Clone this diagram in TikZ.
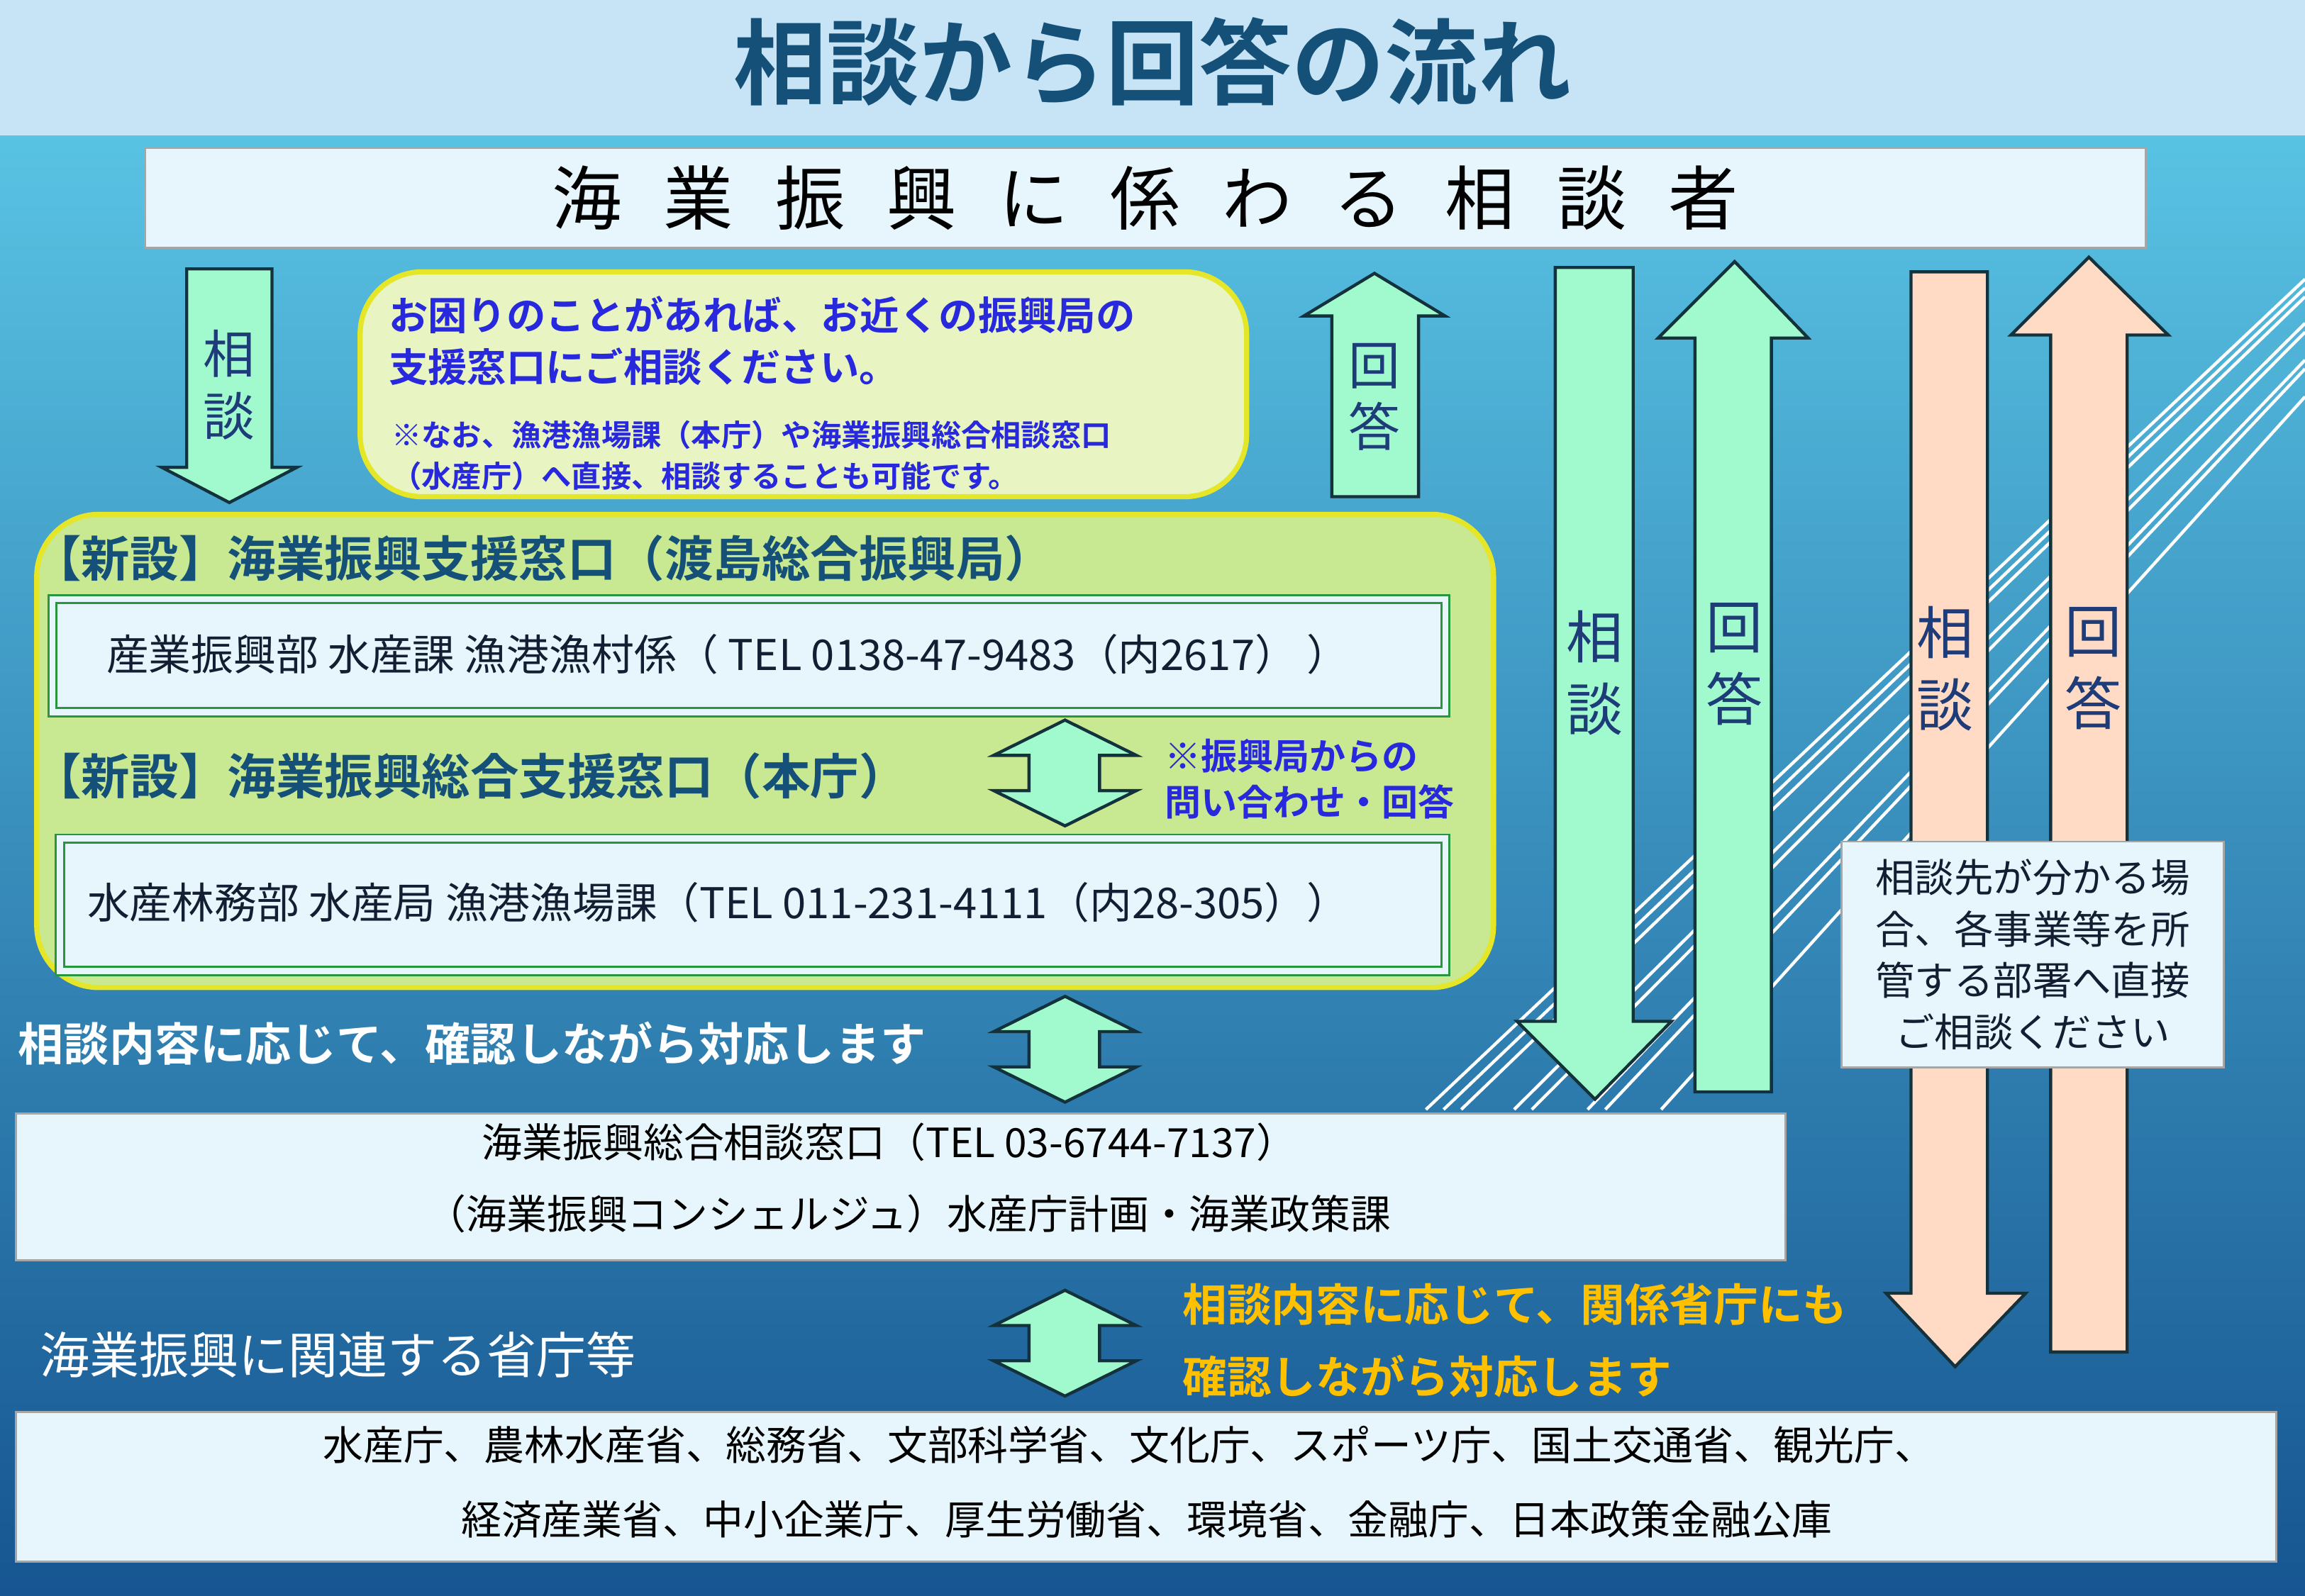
\documentclass[tikz,border=0pt]{standalone}
\usepackage{fontspec}
\setmainfont{Noto Sans CJK JP}
\newfontfamily\jb{Noto Sans CJK JP Bold}
\definecolor{bluetxt}{RGB}{40,40,220}
\definecolor{titlec}{RGB}{20,80,120}
\definecolor{grnf}{RGB}{160,250,205}
\definecolor{darkl}{RGB}{20,50,60}
\definecolor{pnkf}{RGB}{255,218,196}
\definecolor{wfill}{RGB}{230,246,252}
\definecolor{lbltxt}{RGB}{30,60,120}
\definecolor{bgtop}{RGB}{95,205,235}
\definecolor{bgbot}{RGB}{22,85,145}
\definecolor{band}{RGB}{198,228,246}
\definecolor{yelf}{RGB}{232,245,195}
\definecolor{yeld}{RGB}{230,230,40}
\definecolor{grbox}{RGB}{200,232,145}
\definecolor{grline}{RGB}{40,150,60}
\definecolor{orng}{RGB}{255,192,0}
\definecolor{dtxt}{RGB}{20,30,50}
\begin{document}
\begin{tikzpicture}[x=0.01cm,y=-0.01cm,
  grn/.style={fill=grnf,draw=darkl,line width=0.6pt},
  pnk/.style={fill=pnkf,draw=darkl,line width=0.6pt},
  wbox/.style={fill=wfill,draw=gray!70},
  lbl/.style={font=\fontsize{10}{12}\selectfont,text=lbltxt,align=center}]
\useasboundingbox (0,0) rectangle (1568,1086);
\shade[top color=bgtop,bottom color=bgbot] (0,0) rectangle (1568,1086);
\fill[band] (0,0) rectangle (1568,92);
\node[font=\jb\fontsize{18}{20}\selectfont,text=titlec] (title) at (784,42) {相談から回答の流れ};
% decorative lines
\foreach \d in {0,12,24,60,72,110,122,160} \draw[white,line width=0.6pt] (970+\d,755) -- (1568,190+\d*0.5);
% top box
\node[wbox,minimum width=13.6cm,minimum height=0.68cm,anchor=north west,font=\fontsize{13.5}{15}\selectfont] (cons) at (98,100) {海\hspace{0.6em}業\hspace{0.6em}振\hspace{0.6em}興\hspace{0.6em}に\hspace{0.6em}係\hspace{0.6em}わ\hspace{0.6em}る\hspace{0.6em}相\hspace{0.6em}談\hspace{0.6em}者};
% small down arrow
\draw[grn] (127,183) -- (185,183) -- (185,318) -- (202,318) -- (156,342) -- (110,318) -- (127,318) -- cycle;
\node[lbl] (s1) at (156,262) {相\\談};
% yellow box
\draw[rounded corners=12pt,fill=yelf,draw=yeld,line width=1pt] (245,185) rectangle (848,338);
\node[anchor=west,text=bluetxt,font=\jb\fontsize{7.6}{10}\selectfont,align=left] (y1) at (252,232) {お困りのことがあれば、お近くの振興局の\\支援窓口にご相談ください。};
\node[anchor=west,text=bluetxt,font=\jb\fontsize{5.8}{8}\selectfont,align=left] (y2) at (254,310) {※なお、漁港漁場課（本庁）や海業振興総合相談窓口\\（水産庁）へ直接、相談することも可能です。};
% small up arrow
\draw[grn] (906,338) -- (965,338) -- (965,215) -- (983,215) -- (935,186) -- (887,215) -- (906,215) -- cycle;
\node[lbl] (k1) at (935,270) {回\\答};
% big arrows
\draw[grn] (1058,182) -- (1111,182) -- (1111,695) -- (1137,695) -- (1085,748) -- (1032,695) -- (1058,695) -- cycle;
\node[lbl,font=\fontsize{11}{14}\selectfont] at (1085,458) {相\\談};
\draw[grn] (1153,743) -- (1205,743) -- (1205,230) -- (1230,230) -- (1180,178) -- (1128,230) -- (1153,230) -- cycle;
\node[lbl,font=\fontsize{11}{14}\selectfont] at (1180,452) {回\\答};
\draw[pnk] (1300,185) -- (1352,185) -- (1352,880) -- (1378,880) -- (1330,930) -- (1283,880) -- (1300,880) -- cycle;
\node[lbl,font=\fontsize{11}{14}\selectfont] at (1323,455) {相\\談};
\draw[pnk] (1395,920) -- (1447,920) -- (1447,228) -- (1475,228) -- (1421,175) -- (1368,228) -- (1395,228) -- cycle;
\node[lbl,font=\fontsize{11}{14}\selectfont] at (1424,455) {回\\答};
\node[wbox,minimum width=2.6cm,minimum height=1.5cm,anchor=north west,align=center,font=\fontsize{7.6}{10}\selectfont,text=dtxt] (pb) at (1252,572) {相談先が分かる場\\合、各事業等を所\\管する部署へ直接\\ご相談ください};
% green box
\draw[rounded corners=12pt,fill=grbox,draw=yeld,line width=1pt] (25,350) rectangle (1016,672);
\node[anchor=west,font=\jb\fontsize{9.4}{11}\selectfont,text=titlec] (h1) at (10,380) {【新設】海業振興支援窓口（渡島総合振興局）};
\node[wbox,draw=grline,double=wfill,double distance=1.2pt,minimum width=9.47cm,minimum height=0.77cm,anchor=north west] (b1) at (35,407) {};
\node[anchor=west,font=\fontsize{8.2}{10}\selectfont,text=dtxt] at (60,445) {産業振興部 水産課 漁港漁村係（ TEL 0138-47-9483（内2617） ）};
\node[anchor=west,font=\jb\fontsize{9.4}{11}\selectfont,text=titlec] (h2) at (10,528) {【新設】海業振興総合支援窓口（本庁）};
\node[wbox,draw=grline,double=wfill,double distance=1.2pt,minimum width=9.42cm,minimum height=0.9cm,anchor=north west] (b2) at (40,570) {};
\node[anchor=west,font=\fontsize{8.2}{10}\selectfont,text=dtxt] at (47,614) {水産林務部 水産局 漁港漁場課（TEL 011-231-4111（内28-305））};
% double arrows
\foreach \t/\b in {490/562,678/750,878/950}{
\draw[grn] (700,\t+24) -- (676,\t+24) -- (724.5,\t) -- (773,\t+24) -- (748,\t+24) -- (748,\b-24) -- (773,\b-24) -- (724.5,\b) -- (676,\b-24) -- (700,\b-24) -- cycle;}
\node[anchor=west,text=bluetxt,font=\jb\fontsize{7}{9}\selectfont,align=left] (n1) at (780,530) {※振興局からの\\問い合わせ・回答};
\node[anchor=west,text=white,font=\jb\fontsize{8.8}{10}\selectfont] (t1) at (0,710) {相談内容に応じて、確認しながら対応します};
% mid box
\node[wbox,minimum width=12.03cm,minimum height=1cm,anchor=north west] (mb) at (10,757) {};
\node[font=\fontsize{7.8}{10}\selectfont] at (605,777) {海業振興総合相談窓口（TEL 03-6744-7137）};
\node[font=\fontsize{7.8}{10}\selectfont] at (618,826) {（海業振興コンシェルジュ）水産庁計画・海業政策課};
\node[anchor=west,text=orng,font=\jb\fontsize{8.6}{14}\selectfont,align=left] (o1) at (792,912) {相談内容に応じて、関係省庁にも\\確認しながら対応します};
\node[anchor=west,text=white,font=\fontsize{9.6}{11}\selectfont] (t2) at (15,922) {海業振興に関連する省庁等};
\node[wbox,minimum width=15.37cm,minimum height=1.02cm,anchor=north west] (bb) at (10,960) {};
\node[font=\fontsize{7.8}{10}\selectfont] at (768,983) {水産庁、農林水産省、総務省、文部科学省、文化庁、スポーツ庁、国土交通省、観光庁、};
\node[font=\fontsize{7.8}{10}\selectfont] at (780,1034) {経済産業省、中小企業庁、厚生労働省、環境省、金融庁、日本政策金融公庫};
\end{tikzpicture}
\end{document}
